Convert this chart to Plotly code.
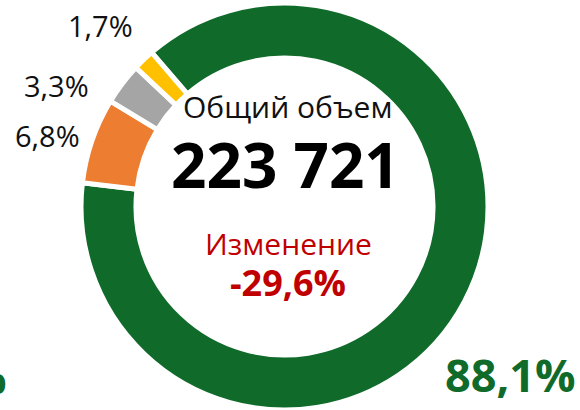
import plotly.graph_objects as go

# Data
categories = ["Категория 1", "Категория 2", "Категория 3", "Категория 4"]
shares = [88.1, 6.8, 3.3, 1.7]
share_labels = ["88,1%", "6,8%", "3,3%", "1,7%"]
total_label = "Общий объем"
total_value = "223 721"
change_label = "Изменение"
change_value = "-29,6%"

colors = ["#106B2B", "#ED7D31", "#A5A5A5", "#FFC000"]
GREEN = "#106B2B"
RED = "#C00000"
FONT = "Open Sans"

W, H = 580, 410
MT = 3


def px(x):
    return x / W


def py(y):
    return (H - y) / (H - MT)


fig = go.Figure(
    go.Pie(
        labels=categories,
        values=shares,
        hole=0.73,
        sort=False,
        direction="clockwise",
        rotation=-40.8,
        marker=dict(colors=colors, line=dict(color="white", width=5)),
        textinfo="none",
        hoverinfo="label+percent",
        showlegend=False,
        domain=dict(x=[0.1397, 0.8414], y=[0, 1]),
    )
)

ann = []


def add(text, x, y, size, color, bold=False, xanchor="center"):
    ann.append(
        dict(
            text=f"<b>{text}</b>" if bold else text,
            x=px(x), y=py(y), xref="paper", yref="paper",
            xanchor=xanchor, yanchor="middle", showarrow=False,
            font=dict(family=FONT, size=size, color=color),
        )
    )


# outside percentage labels
add(share_labels[3], 100, 25, 29, "#111111")
add(share_labels[2], 56, 85, 29, "#111111")
add(share_labels[1], 47, 135, 29, "#111111")
add(share_labels[0], 510, 374, 45, GREEN, bold=True)
# clipped label at the left edge
add(share_labels[0], 9, 376, 45, GREEN, bold=True, xanchor="right")

# center texts
add(total_label, 287, 106, 30, "#111111")
add(total_value, 285.5, 164, 62, "#000000", bold=True)
add(change_label, 288.5, 243, 30, RED)
add(change_value, 287.5, 283, 36, RED, bold=True)

fig.update_layout(
    width=W, height=H,
    margin=dict(l=0, r=0, t=MT, b=0),
    paper_bgcolor="white",
    plot_bgcolor="white",
    annotations=ann,
    font=dict(family=FONT),
)

fig.write_html(
    "out.html",
    config={"displayModeBar": False},
    post_script="document.body.style.margin='0';document.body.style.overflow='hidden';",
)
